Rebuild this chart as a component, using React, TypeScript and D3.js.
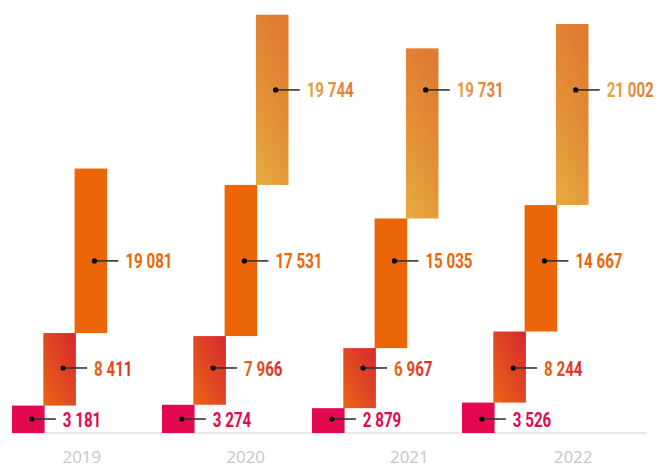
import React from 'react';
import * as d3 from 'd3';

const years = ['2019', '2020', '2021', '2022'];
const seg1 = [3181, 3274, 2879, 3526];
const seg2 = [8411, 7966, 6967, 8244];
const seg3 = [19081, 17531, 15035, 14667];
const seg4: (number | null)[] = [null, 19744, 19731, 21002];
// label row of each series, expressed in value units on the y scale
const labelRows = [1620, 7540, 19960, 39790];

const W = 667;
const H = 466;

const fmt = (v: number) => d3.format(',')(v).replace(/,/g, ' ');

export default function App() {
  const y = d3.scaleLinear().domain([0, 50220]).range([433, 0]);
  const group = d3.scaleBand<string>().domain(years).range([12, 612]).paddingInner(0);
  const segX = d3.scaleLinear().domain([0, 4]).range([0, 125.2]);
  const labelX = d3.scaleBand<string>().domain(years).range([0, 655]);
  const segW = 32.6;

  const series = [seg1, seg2, seg3, seg4];
  const fills = ['#e3084f', 'url(#gRed)', '#ec6608', 'url(#gGold)'];
  const textFills = ['#e3084f', 'url(#tRed)', '#ec6608', 'url(#tGold)'];

  const items: any[] = [];
  years.forEach((yr, i) => {
    let cum = 0;
    series.forEach((s, j) => {
      const v = s[i];
      if (v == null) return;
      const y0 = y(cum);
      const y1 = y(cum + v);
      cum += v;
      const x = (group(yr) as number) + segX(j);
      items.push({ yr, j, v, x, y0, y1 });
    });
  });

  return (
    <svg width={W} height={H} style={{ position: 'absolute', left: 0, top: 0 }}>
      <defs>
        <linearGradient id="gRed" x1="1" y1="0" x2="0" y2="1">
          <stop offset="0" stopColor="#d9272d" />
          <stop offset="0.55" stopColor="#e04a22" />
          <stop offset="1" stopColor="#ec6512" />
        </linearGradient>
        <linearGradient id="gGold" x1="0.7" y1="0" x2="0.3" y2="1">
          <stop offset="0" stopColor="#e07a32" />
          <stop offset="0.5" stopColor="#e28d36" />
          <stop offset="1" stopColor="#e5a73e" />
        </linearGradient>
        <linearGradient id="tRed" x1="0" y1="0" x2="1" y2="0">
          <stop offset="0" stopColor="#ec6512" />
          <stop offset="1" stopColor="#da2a2c" />
        </linearGradient>
        <linearGradient id="tGold" x1="0" y1="0" x2="1" y2="0">
          <stop offset="0" stopColor="#e6a43e" />
          <stop offset="1" stopColor="#e07a32" />
        </linearGradient>
      </defs>
      <rect x={12} y={432} width={635} height={2} fill="#e8e8e8" />
      {items.map((d, k) => (
        <rect key={'r' + k} x={d.x} y={d.y1} width={segW} height={d.y0 - d.y1} fill={fills[d.j]} />
      ))}
      {items.map((d, k) => {
        const cx = d.x + segW / 2 + 3.5;
        const cy = y(labelRows[d.j]);
        return (
          <g key={'l' + k}>
            <line x1={cx} x2={cx + 24} y1={cy} y2={cy} stroke="#333" strokeWidth={1.6} />
            <circle cx={cx} cy={cy} r={2.6} fill="#000" />
            <g transform={`translate(${cx + 31},${cy}) scale(0.72,1)`}>
              <text
                x={0}
                y={0}
                dy="0.36em"
                fontFamily="Roboto, sans-serif"
                fontWeight={700}
                fontSize={21}
                fill={textFills[d.j]}
              >
                {fmt(d.v)}
              </text>
            </g>
          </g>
        );
      })}
      {years.map((yr) => (
        <text
          key={yr}
          x={(labelX(yr) as number) + labelX.bandwidth() / 2}
          y={463}
          textAnchor="middle"
          fontFamily="'Open Sans', sans-serif"
          fontSize={17}
          fill="#c6c6c6"
        >
          {yr}
        </text>
      ))}
    </svg>
  );
}
